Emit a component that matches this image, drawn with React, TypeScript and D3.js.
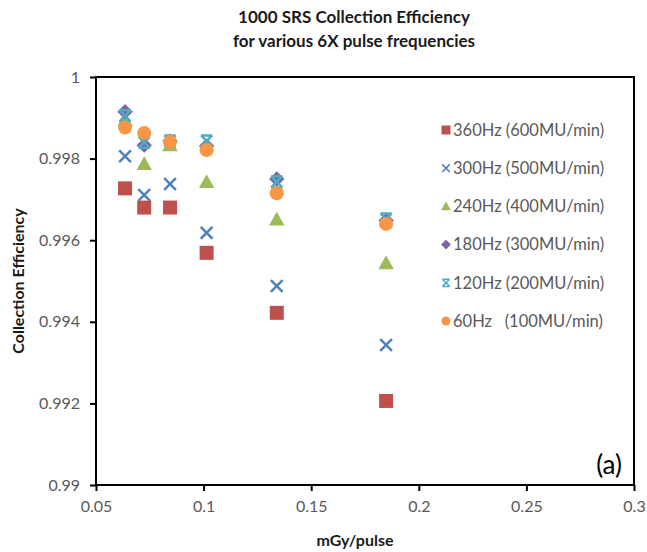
import * as d3 from 'd3';
import React, { useEffect, useRef } from 'react';

// dose per pulse (mGy/pulse), shared by every series
const doses = [0.0635, 0.0724, 0.0844, 0.1014, 0.134, 0.1848];

const eff360 = [0.99727, 0.9968, 0.9968, 0.99569, 0.99422, 0.99206];
const eff300 = [0.99806, 0.99711, 0.99738, 0.99618, 0.99488, 0.99343];
const eff240 = [0.99895, 0.99787, 0.99833, 0.99743, 0.99651, 0.99544];
const eff180 = [0.99915, 0.99833, 0.99843, 0.99831, 0.9975, 0.99648];
const eff120 = [0.99905, 0.9984, 0.99843, 0.99843, 0.99743, 0.99652];
const eff60 = [0.99876, 0.99863, 0.99841, 0.99821, 0.99715, 0.9964];

const seriesNames = [
	'360Hz (600MU/min)',
	'300Hz (500MU/min)',
	'240Hz (400MU/min)',
	'180Hz (300MU/min)',
	'120Hz (200MU/min)',
	'60Hz   (100MU/min)',
];
const seriesValues = [eff360, eff300, eff240, eff180, eff120, eff60];
const seriesColors = ['#C0504D', '#4F81BD', '#9BBB59', '#8064A2', '#4BACC6', '#F79646'];
const seriesShapes = ['square', 'cross', 'triangle', 'diamond', 'star', 'circle'];

const xTicks = [0.05, 0.1, 0.15, 0.2, 0.25, 0.3];
const yTicks = [0.99, 0.992, 0.994, 0.996, 0.998, 1];

const width = 647;
const height = 552;
const margin = { top: 77, right: 13, bottom: 67, left: 96 };
const font = 'Lato, "Open Sans", sans-serif';

// draws one excel-like marker centred at 0,0
const drawMarker = (g: any, shape: string, color: string, s: number) => {
	if (shape === 'square') {
		g.append('rect').attr('x', -s / 2).attr('y', -s / 2).attr('width', s).attr('height', s).attr('fill', color);
	} else if (shape === 'cross') {
		const h = s * 0.42;
		g.append('path')
			.attr('d', `M${-h},${-h}L${h},${h}M${-h},${h}L${h},${-h}`)
			.attr('stroke', color)
			.attr('stroke-width', s * 0.18)
			.attr('fill', 'none');
	} else if (shape === 'triangle') {
		const h = s * 0.55;
		g.append('path').attr('d', `M0,${-h}L${h},${h * 0.8}L${-h},${h * 0.8}Z`).attr('fill', color);
	} else if (shape === 'diamond') {
		const h = s * 0.55;
		g.append('path').attr('d', `M0,${-h}L${h},0L0,${h}L${-h},0Z`).attr('fill', color);
	} else if (shape === 'star') {
		const h = s * 0.4;
		g.append('path')
			.attr('d', `M${-h},${-h}L${h},${h}M${-h},${h}L${h},${-h}M${-h},${-h}L${h},${-h}M${-h},${h}L${h},${h}`)
			.attr('stroke', color)
			.attr('stroke-width', s * 0.17)
			.attr('fill', 'none');
	} else {
		g.append('circle').attr('r', s / 2).attr('fill', color);
	}
};

export default function App() {
	const ref = useRef<SVGSVGElement>(null);

	useEffect(() => {
		const svg = d3.select(ref.current);
		svg.selectAll('*').remove();

		const x = d3.scaleLinear().domain([0.05, 0.3]).range([margin.left, width - margin.right]);
		const y = d3.scaleLinear().domain([0.99, 1]).range([height - margin.bottom, margin.top]);

		svg.append('rect').attr('width', width).attr('height', height).attr('fill', '#fff');

		// title
		const title = svg
			.append('text')
			.attr('text-anchor', 'middle')
			.attr('font-family', font)
			.attr('font-weight', 'bold')
			.attr('font-size', 17)
			.attr('fill', '#1a1a1a');
		title.append('tspan').attr('x', 354).attr('y', 23).text('1000 SRS Collection Efficiency');
		title.append('tspan').attr('x', 354).attr('y', 47).text('for various 6X pulse frequencies');

		// axes
		const yAxis = svg
			.append('g')
			.attr('transform', `translate(${margin.left},0)`)
			.call(
				d3
					.axisLeft(y)
					.tickValues(yTicks)
					.tickSize(6)
					.tickPadding(10)
					.tickFormat((d: any) => String(+d.toFixed(3)))
			);
		const xAxis = svg
			.append('g')
			.attr('transform', `translate(0,${height - margin.bottom})`)
			.call(
				d3
					.axisBottom(x)
					.tickValues(xTicks)
					.tickSize(6)
					.tickPadding(10)
					.tickFormat((d: any) => String(+d.toFixed(2)))
			);
		[xAxis, yAxis].forEach((g: any) => {
			g.select('.domain').remove();
			g.selectAll('line').attr('stroke', '#000').attr('stroke-width', 2);
			g.selectAll('text').attr('font-family', font).attr('font-size', 16).attr('fill', '#595959');
		});

		// plot area frame
		svg.append('rect')
			.attr('x', margin.left)
			.attr('y', margin.top)
			.attr('width', width - margin.left - margin.right)
			.attr('height', height - margin.top - margin.bottom)
			.attr('fill', 'none')
			.attr('stroke', '#000')
			.attr('stroke-width', 2);

		// axis titles
		svg.append('text')
			.attr('x', 355)
			.attr('y', 546)
			.attr('text-anchor', 'middle')
			.attr('font-family', font)
			.attr('font-weight', 'bold')
			.attr('font-size', 16)
			.attr('fill', '#1a1a1a')
			.text('mGy/pulse');
		svg.append('text')
			.attr('transform', `translate(24,${(margin.top + height - margin.bottom) / 2}) rotate(-90)`)
			.attr('text-anchor', 'middle')
			.attr('font-family', font)
			.attr('font-weight', 'bold')
			.attr('font-size', 16)
			.attr('fill', '#1a1a1a')
			.text('Collection Efficiency');

		// points
		seriesValues.forEach((vals, i) => {
			const g = svg.append('g');
			vals.forEach((v, j) => {
				const m = g.append('g').attr('transform', `translate(${x(doses[j])},${y(v)})`);
				drawMarker(m, seriesShapes[i], seriesColors[i], 14);
			});
		});

		// legend
		const legend = svg.append('g').attr('transform', 'translate(446,0)');
		seriesNames.forEach((name, i) => {
			const ly = 130 + i * 38.2;
			const m = legend.append('g').attr('transform', `translate(0,${ly})`);
			drawMarker(m, seriesShapes[i], seriesColors[i], 9);
			legend
				.append('text')
				.attr('x', 7)
				.attr('y', ly)
				.attr('dy', '0.35em')
				.attr('font-family', font)
				.attr('font-size', 16.5)
				.attr('fill', '#595959')
				.attr('xml:space', 'preserve')
				.text(name);
		});

		svg.append('text')
			.attr('x', 622)
			.attr('y', 474)
			.attr('text-anchor', 'end')
			.attr('font-family', font)
			.attr('font-size', 26)
			.attr('fill', '#000')
			.text('(a)');
	}, []);

	return (
		<svg
			ref={ref}
			width={width}
			height={height}
			style={{ position: 'absolute', left: 0, top: 0, display: 'block' }}
		/>
	);
}
